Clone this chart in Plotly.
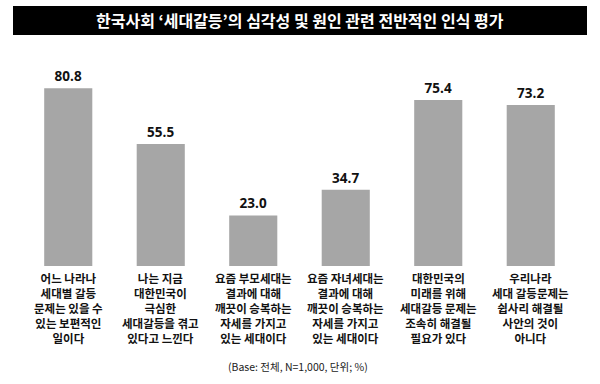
import plotly.graph_objects as go

categories = [
    "어느 나라나<br>세대별 갈등<br>문제는 있을 수<br>있는 보편적인<br>일이다",
    "나는 지금<br>대한민국이<br>극심한<br>세대갈등을 겪고<br>있다고 느낀다",
    "요즘 부모세대는<br>결과에 대해<br>깨끗이 승복하는<br>자세를 가지고<br>있는 세대이다",
    "요즘 자녀세대는<br>결과에 대해<br>깨끗이 승복하는<br>자세를 가지고<br>있는 세대이다",
    "대한민국의<br>미래를 위해<br>세대갈등 문제는<br>조속히 해결될<br>필요가 있다",
    "우리나라<br>세대 갈등문제는<br>쉽사리 해결될<br>사안의 것이<br>아니다",
]
values = [80.8, 55.5, 23.0, 34.7, 75.4, 73.2]
title_text = "한국사회 ‘세대갈등’의 심각성 및 원인 관련 전반적인 인식 평가"
footer_text = "(Base: 전체, N=1,000, 단위; %)"

KFONT = "Noto Sans CJK KR"
W, H = 600, 384
L, R, T, B = 22, 23, 46, 118
PH = H - T - B

def py(y):
    return (H - B - y) / PH

def px(x):
    return (x - L) / (W - L - R)

idx = list(range(len(categories)))

fig = go.Figure(go.Bar(
    x=idx, y=values,
    marker=dict(color="#a6a6a6", line=dict(width=0)),
    width=0.52,
    text=[f"{v:.1f}" for v in values],
    textposition="outside",
    textfont=dict(family="Open Sans", size=13.5, color="#111111", weight="bold"),
    cliponaxis=False,
    hoverinfo="skip",
))

fig.add_shape(type="rect", xref="paper", yref="paper",
              x0=px(13), x1=px(587), y0=py(35), y1=py(6),
              fillcolor="black", line=dict(width=0), layer="above")
fig.add_annotation(xref="paper", yref="paper", x=px(300), y=py(20.5),
                   text=title_text, showarrow=False,
                   font=dict(family=KFONT, size=16, color="white", weight="bold"),
                   xanchor="center", yanchor="middle")

for i, c in zip(idx, categories):
    fig.add_annotation(xref="x", yref="paper", x=i, y=py(268),
                       text=c, showarrow=False,
                       font=dict(family=KFONT, size=11.5, color="#111111", weight="bold"),
                       xanchor="center", yanchor="top", align="center")

fig.add_annotation(xref="paper", yref="paper", x=px(298), y=py(366),
                   text=footer_text, showarrow=False,
                   font=dict(family=KFONT, size=10.5, color="#222222"),
                   xanchor="center", yanchor="middle")

fig.update_layout(
    width=W, height=H,
    margin=dict(l=L, r=R, t=T, b=B, pad=0),
    paper_bgcolor="white", plot_bgcolor="white",
    showlegend=False,
    xaxis=dict(range=[-0.5, 5.5], showticklabels=False, showgrid=False,
               zeroline=False, showline=False, ticks=""),
    yaxis=dict(range=[0, 100], visible=False),
)

fig.write_html("out.html", config={"displayModeBar": False},
               post_script="document.body.style.margin='0';document.body.style.overflow='hidden';")
